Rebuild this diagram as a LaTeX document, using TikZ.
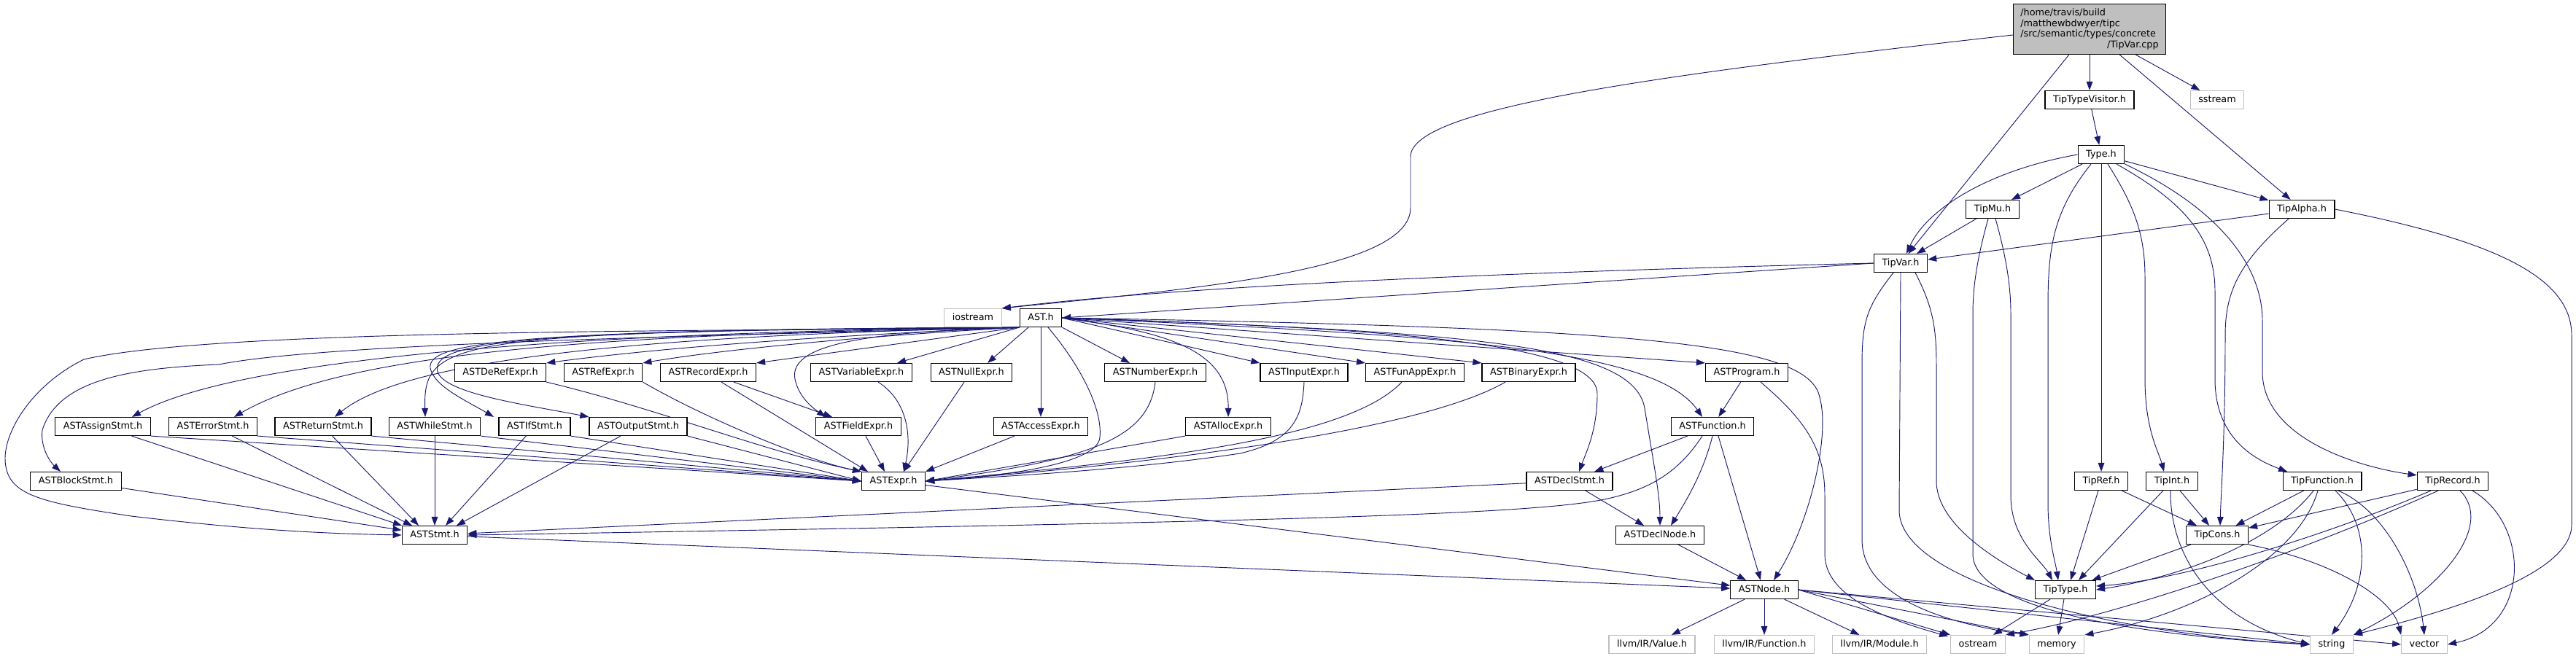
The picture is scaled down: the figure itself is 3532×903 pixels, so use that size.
\documentclass[tikz,border=0pt]{standalone}
\usepackage{fontspec}
\setmainfont{DejaVu Sans}
\usepackage{xcolor}
\usepackage{tikz}
\usetikzlibrary{arrows.meta, calc, backgrounds}
\definecolor{edgeblue}{HTML}{191970}
\definecolor{sysgray}{HTML}{BFBFBF}
\tikzset{
  filebox/.style={
    line width=0.9pt, fill=white, font=\fontsize{9.6pt}{11.1pt}\selectfont,
    inner ysep=2pt, minimum height=18.75pt
  },
  inclbox/.style={
    filebox, draw=black, inner xsep=8.3pt, text height=7.3pt, text depth=2.3pt
  },
  sysbox/.style={
    inclbox, draw=sysgray
  },
  srcbox/.style={
    filebox, draw=black, fill=sysgray, align=left, text width=142pt,
    inner xsep=7.4pt, minimum height=51.75pt
  },
  inclarrow/.style={
    -{Triangle[length=9pt,width=6.5pt]}, line width=0.7pt, color=edgeblue
  },
}

\begin{document}
\begin{tikzpicture}[x=0.75pt, y=-0.75pt]
  \useasboundingbox (0,0) rectangle (3532,903);

  % Source file and type headers
  \node[srcbox] (tipvarcpp) at (2865,40)
    {/home/travis/build\\/matthewbdwyer/tipc\\/src/semantic/types/concrete\\\hspace*{\fill}/TipVar.cpp\hspace*{\fill}};
  \node[inclbox] (typevisitor) at (2865,137) {TipTypeVisitor.h};
  \node[sysbox] (sstream) at (3040,137) {sstream};
  \node[inclbox] (typeh) at (2881,212) {Type.h};
  \node[inclbox] (tipmu) at (2732,287) {TipMu.h};
  \node[inclbox] (tipalpha) at (3156,287) {TipAlpha.h};
  \node[inclbox] (tipvarh) at (2606,361) {TipVar.h};
  \node[inclbox] (tipref) at (2881,660) {TipRef.h};
  \node[inclbox] (tipint) at (2978,660) {TipInt.h};
  \node[inclbox] (tipfunction) at (3184,660) {TipFunction.h};
  \node[inclbox] (tiprecord) at (3363,660) {TipRecord.h};
  \node[inclbox] (tipcons) at (3040,734) {TipCons.h};
  \node[inclbox] (tiptype) at (2832,809) {TipType.h};

  % AST headers
  \node[sysbox] (iostream) at (1334,436) {iostream};
  \node[inclbox] (ast) at (1427,436) {AST.h};
  \node[inclbox] (derefexpr) at (686,511) {ASTDeRefExpr.h};
  \node[inclbox] (refexpr) at (827,511) {ASTRefExpr.h};
  \node[inclbox] (recordexpr) at (971,511) {ASTRecordExpr.h};
  \node[inclbox] (variableexpr) at (1181,511) {ASTVariableExpr.h};
  \node[inclbox] (nullexpr) at (1332,511) {ASTNullExpr.h};
  \node[inclbox] (numberexpr) at (1584,511) {ASTNumberExpr.h};
  \node[inclbox] (inputexpr) at (1788,511) {ASTInputExpr.h};
  \node[inclbox] (funappexpr) at (1940,511) {ASTFunAppExpr.h};
  \node[inclbox] (binaryexpr) at (2096,511) {ASTBinaryExpr.h};
  \node[inclbox] (program) at (2395,511) {ASTProgram.h};
  \node[inclbox] (assignstmt) at (141,585) {ASTAssignStmt.h};
  \node[inclbox] (errorstmt) at (292,585) {ASTErrorStmt.h};
  \node[inclbox] (returnstmt) at (443,585) {ASTReturnStmt.h};
  \node[inclbox] (whilestmt) at (596,585) {ASTWhileStmt.h};
  \node[inclbox] (ifstmt) at (733,585) {ASTIfStmt.h};
  \node[inclbox] (outputstmt) at (875,585) {ASTOutputStmt.h};
  \node[inclbox] (fieldexpr) at (1177,585) {ASTFieldExpr.h};
  \node[inclbox] (accessexpr) at (1427,585) {ASTAccessExpr.h};
  \node[inclbox] (allocexpr) at (1684,585) {ASTAllocExpr.h};
  \node[inclbox] (function) at (2348,585) {ASTFunction.h};
  \node[inclbox] (blockstmt) at (104,660) {ASTBlockStmt.h};
  \node[inclbox] (expr) at (1225,660) {ASTExpr.h};
  \node[inclbox] (declstmt) at (2152,660) {ASTDeclStmt.h};
  \node[inclbox] (stmt) at (596,734) {ASTStmt.h};
  \node[inclbox] (declnode) at (2276,734) {ASTDeclNode.h};
  \node[inclbox] (astnode) at (2419,809) {ASTNode.h};

  % System headers
  \node[sysbox] (llvmvalue) at (2265,884) {llvm/IR/Value.h};
  \node[sysbox] (llvmfunction) at (2419,884) {llvm/IR/Function.h};
  \node[sysbox] (llvmmodule) at (2577,884) {llvm/IR/Module.h};
  \node[sysbox] (ostream) at (2712,884) {ostream};
  \node[sysbox] (memory) at (2820,884) {memory};
  \node[sysbox] (string) at (3197,884) {string};
  \node[sysbox] (vector) at (3324,884) {vector};

  \begin{pgfonlayer}{background}
  % TipVar.cpp
  \draw[inclarrow] ($(tipvarcpp.west)+(0,8)$) .. controls (2250,105) and (1934,150) .. (1934,215)
    -- (1934,285) .. controls (1934,370) and (1650,395) .. (iostream.north east);
  \draw[inclarrow] (tipvarcpp) -- (tipvarh);
  \draw[inclarrow] (tipvarcpp) -- (typevisitor);
  \draw[inclarrow] (tipvarcpp) -- (tipalpha);
  \draw[inclarrow] (tipvarcpp) -- (sstream);
  \draw[inclarrow] (typevisitor) -- (typeh);

  % Type.h
  \draw[inclarrow] (typeh) -- (tipmu);
  \draw[inclarrow] (typeh) -- (tipalpha);
  \draw[inclarrow] (typeh.west) .. controls (2720,235) and (2640,290) .. ($(tipvarh.north)+(8,0)$);
  \draw[inclarrow] ($(typeh.south)+(-14,0)$) .. controls (2815,290) and (2808,340) .. (2808,420)
    -- (2808,690) .. controls (2808,740) and (2818,770) .. ($(tiptype.north)+(-10,0)$);
  \draw[inclarrow] (typeh) -- (tipref);
  \draw[inclarrow] ($(typeh.south)+(9,0)$) .. controls (2925,280) and (2941,320) .. (2941,380)
    -- (2941,520) .. controls (2941,590) and (2960,620) .. ($(tipint.north)+(-11,0)$);
  \draw[inclarrow] ($(typeh.south)+(21,0)$) .. controls (3000,280) and (3037,330) .. (3037,400)
    -- (3037,520) .. controls (3037,600) and (3090,630) .. ($(tipfunction.north)+(-48,0)$);
  \draw[inclarrow] (typeh.south east) .. controls (3050,290) and (3102,370) .. (3102,440)
    -- (3102,510) .. controls (3102,600) and (3230,640) .. ($(tiprecord.north west)+(0,5)$);

  % TipMu.h and TipAlpha.h
  \draw[inclarrow] (tipmu) -- ($(tipvarh.north)+(22,0)$);
  \draw[inclarrow] ($(tipmu.south)+(-6,0)$) .. controls (2712,350) and (2705,390) .. (2705,430)
    -- (2705,760) .. controls (2705,830) and (2900,870) .. (string.west);
  \draw[inclarrow] ($(tipmu.south)+(4,0)$) .. controls (2750,350) and (2757,390) .. (2757,430)
    -- (2757,680) .. controls (2757,740) and (2800,770) .. ($(tiptype.north)+(-18,0)$);
  \draw[inclarrow] (tipalpha) -- (tipvarh);
  \draw[inclarrow] ($(tipalpha.south)+(-18,0)$) .. controls (3070,360) and (3051,400) .. (3051,460)
    .. controls (3051,600) and (3045,680) .. ($(tipcons.north)+(4,0)$);
  \draw[inclarrow] (tipalpha.east) .. controls (3420,330) and (3526,380) .. (3526,460)
    -- (3526,720) .. controls (3526,790) and (3350,840) .. (string.north east);

  % TipVar.h
  \draw[inclarrow] (tipvarh.west) .. controls (2000,375) and (1600,395) .. (iostream.north east);
  \draw[inclarrow] (tipvarh.west) -- (ast.east);
  \draw[inclarrow] ($(tipvarh.south)+(-10,0)$) .. controls (2560,420) and (2553,440) .. (2553,500)
    -- (2553,740) .. controls (2553,830) and (2700,860) .. (memory.north west);
  \draw[inclarrow] (tipvarh.south) -- (2604,700) .. controls (2604,800) and (2900,870) .. (string.west);
  \draw[inclarrow] ($(tipvarh.south)+(20,0)$) .. controls (2650,420) and (2655,450) .. (2655,500)
    -- (2655,660) .. controls (2655,720) and (2740,770) .. (tiptype.north west);

  % AST.h, leftwards
  \draw[inclarrow] (ast.south west) .. controls (1000,455) and (300,450) .. (115,493)
    .. controls (40,530) and (0,600) .. (8,640) .. controls (15,680) and (60,690) .. (180,708)
    .. controls (350,728) and (450,732) .. (stmt.west);
  \draw[inclarrow] (ast.south west) .. controls (1000,460) and (450,470) .. (300,500)
    .. controls (180,505) and (80,520) .. (58,590) .. controls (55,615) and (70,635) .. ($(blockstmt.north)+(-21,0)$);
  \draw[inclarrow] (ast.south west) .. controls (800,455) and (330,490) .. ($(assignstmt.north)+(40,0)$);
  \draw[inclarrow] (ast.south west) .. controls (850,458) and (480,480) .. ($(errorstmt.north)+(29,0)$);
  \draw[inclarrow] (ast.south west) .. controls (900,460) and (560,490) .. ($(returnstmt.north)+(16,0)$);
  \draw[inclarrow] (ast.south west) .. controls (620,455) and (580,465) .. ($(whilestmt.north)+(-13,0)$);
  \draw[inclarrow] (ast.south west) .. controls (700,452) and (585,470) .. (590,505)
    .. controls (595,530) and (640,550) .. ($(ifstmt.north)+(-56,0)$);
  \draw[inclarrow] (ast.south west) .. controls (700,452) and (590,470) .. (600,510)
    .. controls (610,540) and (720,555) .. (outputstmt.north west);
  \draw[inclarrow] (ast.south west) .. controls (1100,462) and (900,478) .. (derefexpr.north east);
  \draw[inclarrow] (ast.south west) .. controls (1200,460) and (1000,478) .. (refexpr.north east);
  \draw[inclarrow] (ast.south west) -- (recordexpr.north east);
  \draw[inclarrow] (ast.south west) .. controls (1200,455) and (1080,470) .. (1090,520)
    .. controls (1095,545) and (1115,560) .. ($(fieldexpr.north)+(-45,0)$);
  \draw[inclarrow] (ast.south west) -- ($(variableexpr.north)+(49,0)$);
  \draw[inclarrow] ($(ast.south)+(-17,0)$) -- ($(nullexpr.north)+(22,0)$);

  % AST.h, downwards and rightwards
  \draw[inclarrow] (ast) -- (accessexpr);
  \draw[inclarrow] ($(ast.south)+(10,0)$) .. controls (1480,500) and (1512,560) .. (1508,600)
    .. controls (1505,640) and (1350,655) .. (expr.east);
  \draw[inclarrow] (ast.south east) -- ($(numberexpr.north)+(-35,0)$);
  \draw[inclarrow] (ast.east) .. controls (1600,455) and (1685,480) .. (allocexpr.north);
  \draw[inclarrow] (ast.east) -- (inputexpr.north west);
  \draw[inclarrow] (ast.east) -- (funappexpr.north west);
  \draw[inclarrow] (ast.east) -- (binaryexpr.north west);
  \draw[inclarrow] (ast.east) -- (program.north west);
  \draw[inclarrow] (ast.east) .. controls (2000,460) and (2270,480) .. ($(function.north)+(-14,0)$);
  \draw[inclarrow] (ast.east) .. controls (1900,450) and (2190,470) .. (2190,540)
    .. controls (2190,590) and (2175,620) .. ($(declstmt.north)+(13,0)$);
  \draw[inclarrow] (ast.east) .. controls (2000,455) and (2240,470) .. (2255,560)
    .. controls (2268,640) and (2276,680) .. (declnode.north);
  \draw[inclarrow] (ast.east) .. controls (2250,450) and (2480,470) .. (2495,545)
    .. controls (2510,600) and (2480,720) .. ($(astnode.north)+(13,0)$);

  % Expressions
  \draw[inclarrow] (derefexpr.south east) .. controls (900,560) and (1050,620) .. (expr.north west);
  \draw[inclarrow] (refexpr.south east) .. controls (960,570) and (1100,630) .. (expr.north west);
  \draw[inclarrow] ($(recordexpr.south)+(18,0)$) -- ($(expr.north)+(-35,0)$);
  \draw[inclarrow] ($(recordexpr.south)+(35,0)$) -- ($(fieldexpr.north)+(-36,0)$);
  \draw[inclarrow] ($(variableexpr.south)+(23,0)$) .. controls (1245,550) and (1250,600) .. ($(expr.north)+(14,0)$);
  \draw[inclarrow] ($(nullexpr.south)+(-10,0)$) -- ($(expr.north)+(14,0)$);
  \draw[inclarrow] ($(fieldexpr.south)+(10,0)$) -- ($(expr.north)+(-12,0)$);
  \draw[inclarrow] ($(accessexpr.south)+(-36,0)$) -- (expr.north east);
  \draw[inclarrow] (numberexpr.south) .. controls (1575,600) and (1500,630) .. (expr.east);
  \draw[inclarrow] (allocexpr.south west) -- (expr.east);
  \draw[inclarrow] (inputexpr.south) .. controls (1786,570) and (1775,605) .. (1700,622)
    .. controls (1550,645) and (1350,655) .. (expr.east);
  \draw[inclarrow] ($(funappexpr.south)+(-18,0)$) .. controls (1850,600) and (1600,630) .. (expr.east);
  \draw[inclarrow] ($(binaryexpr.south)+(-32,0)$) .. controls (1950,590) and (1600,635) .. (expr.east);

  % Statements
  \foreach \s/\dx in {assignstmt/-45, errorstmt/-31, returnstmt/-22, whilestmt/0, ifstmt/15, outputstmt/30}
    \draw[inclarrow] (\s) -- ($(stmt.north)+(\dx,0)$);
  \foreach \s in {assignstmt, errorstmt, returnstmt, whilestmt, ifstmt, outputstmt}
    \draw[inclarrow] (\s.south east) -- (expr.west);
  \draw[inclarrow] (blockstmt) -- (stmt);
  \draw[inclarrow] (declstmt) -- (stmt);
  \draw[inclarrow] ($(function.south)+(-14,0)$) .. controls (2300,650) and (2260,672) .. (2200,685)
    .. controls (2100,705) and (1800,715) .. (stmt.east);
  \draw[inclarrow] (stmt) -- (astnode);
  \draw[inclarrow] (expr) -- (astnode);

  % Program, function and declarations
  \draw[inclarrow] (program) -- (function);
  \draw[inclarrow] ($(program.south)+(19,0)$) .. controls (2480,580) and (2502,620) .. (2502,680)
    -- (2502,760) .. controls (2502,820) and (2590,850) .. ($(ostream.north west)+(-3,2)$);
  \draw[inclarrow] (function) -- (declstmt);
  \draw[inclarrow] (function.south) .. controls (2335,650) and (2310,690) .. ($(declnode.north)+(15,0)$);
  \draw[inclarrow] ($(function.south)+(8,0)$) -- ($(astnode.north)+(-5,0)$);
  \draw[inclarrow] (declstmt) -- (declnode);
  \draw[inclarrow] (declnode) -- (astnode);

  % ASTNode.h
  \foreach \t in {llvmvalue, llvmfunction, llvmmodule}
    \draw[inclarrow] (astnode) -- (\t);
  \draw[inclarrow] (astnode.east) -- (ostream.north west);
  \draw[inclarrow] (astnode.east) -- (memory.north west);
  \draw[inclarrow] (astnode.east) -- (string.west);
  \draw[inclarrow] (astnode.east) -- (vector.west);

  % Tip types
  \draw[inclarrow] (tiptype) -- (ostream);
  \draw[inclarrow] (tiptype) -- (memory);
  \draw[inclarrow] (tipref) -- ($(tiptype.north)+(7,0)$);
  \draw[inclarrow] (tipref) -- (tipcons);
  \draw[inclarrow] (tipint) -- ($(tiptype.north)+(18,0)$);
  \draw[inclarrow] (tipint) -- (tipcons);
  \draw[inclarrow] ($(tipint.south)+(-2,0)$) .. controls (2975,760) and (3030,850) .. (string.west);
  \draw[inclarrow] (tipfunction) -- (tipcons);
  \draw[inclarrow] ($(tipfunction.south)+(-12,0)$) .. controls (3120,740) and (3000,790) .. (tiptype.east);
  \draw[inclarrow] ($(tipfunction.south)+(-6,0)$) .. controls (3150,770) and (3000,845) .. (memory.north east);
  \draw[inclarrow] ($(tipfunction.south)+(18,0)$) .. controls (3250,720) and (3250,800) .. (string.north);
  \draw[inclarrow] ($(tipfunction.south)+(22,0)$) .. controls (3270,700) and (3315,790) .. (vector.north);
  \draw[inclarrow] (tiprecord) -- (tipcons);
  \draw[inclarrow] ($(tiprecord.south)+(-30,0)$) .. controls (3200,730) and (3000,795) .. ($(tiptype.east)+(0,-5)$);
  \draw[inclarrow] ($(tiprecord.south)+(-20,0)$) .. controls (3150,760) and (2900,845) .. (ostream.north east);
  \draw[inclarrow] ($(tiprecord.south)+(10,0)$) .. controls (3420,720) and (3350,810) .. (string.north east);
  \draw[inclarrow] ($(tiprecord.south)+(27,0)$) .. controls (3470,720) and (3470,860) .. (vector.east);
  \draw[inclarrow] (tipcons) -- (tiptype);
  \draw[inclarrow] (tipcons.south east) .. controls (3200,770) and (3280,820) .. (vector.north west);
  \end{pgfonlayer}
\end{tikzpicture}
\end{document}
